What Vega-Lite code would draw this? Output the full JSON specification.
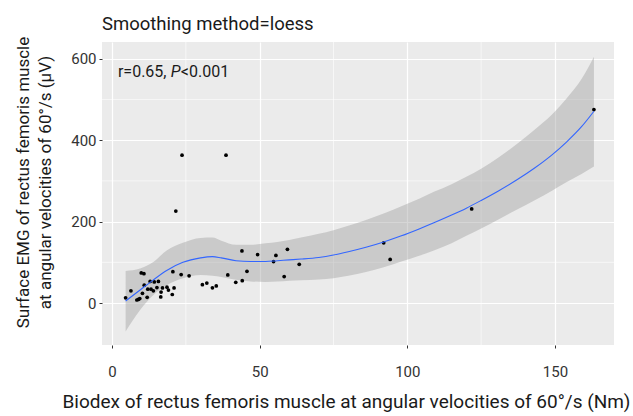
{
  "$schema": "https://vega.github.io/schema/vega-lite/v6.json",
  "width": 512,
  "height": 303,
  "autosize": {"type": "none"},
  "padding": {"left": 102, "top": 42, "right": 19, "bottom": 71},
  "background": "white",
  "config": {
    "font": "Roboto, Liberation Sans, sans-serif",
    "view": {"fill": "#EBEBEB", "stroke": null},
    "axis": {
      "domain": false,
      "gridColor": "white",
      "gridWidth": 1.2,
      "tickColor": "#333333",
      "tickSize": 3,
      "labelColor": "#333333",
      "labelFontSize": 15,
      "titleColor": "#1a1a1a",
      "titleFontSize": 17,
      "titleFontWeight": "normal"
    }
  },
  "title": {
    "text": "Smoothing method=loess",
    "anchor": "start",
    "frame": "group",
    "fontSize": 18.5,
    "fontWeight": "normal",
    "color": "#1a1a1a",
    "offset": 3
  },
  "datasets": {
    "points": [
      {"biodex": 4.6, "emg": 13}, {"biodex": 6.4, "emg": 30}, {"biodex": 8.4, "emg": 7.5},
      {"biodex": 8.9, "emg": 9}, {"biodex": 9.4, "emg": 11}, {"biodex": 9.9, "emg": 74},
      {"biodex": 10.8, "emg": 72}, {"biodex": 10.3, "emg": 24}, {"biodex": 10.9, "emg": 44},
      {"biodex": 11.9, "emg": 14}, {"biodex": 12.1, "emg": 34}, {"biodex": 12.9, "emg": 53},
      {"biodex": 13.2, "emg": 34}, {"biodex": 14, "emg": 30}, {"biodex": 14.3, "emg": 52},
      {"biodex": 15.7, "emg": 53}, {"biodex": 15.2, "emg": 38}, {"biodex": 16.6, "emg": 27},
      {"biodex": 16.5, "emg": 15}, {"biodex": 17.1, "emg": 37}, {"biodex": 18.6, "emg": 39},
      {"biodex": 19.1, "emg": 32}, {"biodex": 20.6, "emg": 77}, {"biodex": 20.4, "emg": 21},
      {"biodex": 21, "emg": 37}, {"biodex": 23.4, "emg": 70}, {"biodex": 26.1, "emg": 67},
      {"biodex": 30.6, "emg": 45}, {"biodex": 32.1, "emg": 49}, {"biodex": 34, "emg": 37.5},
      {"biodex": 35.3, "emg": 42}, {"biodex": 39.2, "emg": 69}, {"biodex": 41.9, "emg": 51},
      {"biodex": 44, "emg": 128}, {"biodex": 44.1, "emg": 55}, {"biodex": 45.7, "emg": 78},
      {"biodex": 49.3, "emg": 119}, {"biodex": 54.7, "emg": 102}, {"biodex": 55.5, "emg": 117},
      {"biodex": 58.3, "emg": 65}, {"biodex": 59.4, "emg": 132}, {"biodex": 63.4, "emg": 95},
      {"biodex": 23.7, "emg": 363}, {"biodex": 38.6, "emg": 363}, {"biodex": 21.6, "emg": 226},
      {"biodex": 92, "emg": 148}, {"biodex": 94.2, "emg": 107}, {"biodex": 121.8, "emg": 231},
      {"biodex": 163.2, "emg": 475}
    ],
    "smooth": [
      {"biodex": 4.6, "fit": 5, "lo": -70, "hi": 79},
      {"biodex": 9.5, "fit": 32, "lo": -17, "hi": 85},
      {"biodex": 14, "fit": 57, "lo": 20, "hi": 101},
      {"biodex": 18.5, "fit": 80, "lo": 44, "hi": 129},
      {"biodex": 24, "fit": 100, "lo": 61, "hi": 148},
      {"biodex": 30, "fit": 111, "lo": 69, "hi": 160},
      {"biodex": 34, "fit": 114, "lo": 67, "hi": 161},
      {"biodex": 37, "fit": 111, "lo": 64, "hi": 153},
      {"biodex": 42, "fit": 104, "lo": 57, "hi": 143},
      {"biodex": 47, "fit": 102, "lo": 53, "hi": 143},
      {"biodex": 52, "fit": 102, "lo": 52, "hi": 147},
      {"biodex": 56, "fit": 104, "lo": 53, "hi": 150},
      {"biodex": 60, "fit": 106, "lo": 55, "hi": 155},
      {"biodex": 64, "fit": 108, "lo": 56, "hi": 161},
      {"biodex": 70, "fit": 112, "lo": 58, "hi": 170},
      {"biodex": 75, "fit": 118, "lo": 61, "hi": 179},
      {"biodex": 80, "fit": 126, "lo": 67, "hi": 190},
      {"biodex": 86, "fit": 137, "lo": 76, "hi": 204},
      {"biodex": 92, "fit": 150, "lo": 88, "hi": 220},
      {"biodex": 98, "fit": 165, "lo": 102, "hi": 238},
      {"biodex": 104, "fit": 182, "lo": 116, "hi": 256},
      {"biodex": 109, "fit": 197, "lo": 129, "hi": 273},
      {"biodex": 115, "fit": 216, "lo": 147, "hi": 292},
      {"biodex": 120, "fit": 233, "lo": 165, "hi": 310},
      {"biodex": 125, "fit": 252, "lo": 183, "hi": 330},
      {"biodex": 131, "fit": 276, "lo": 206, "hi": 358},
      {"biodex": 137, "fit": 302, "lo": 229, "hi": 390},
      {"biodex": 143, "fit": 331, "lo": 252, "hi": 425},
      {"biodex": 149, "fit": 364, "lo": 276, "hi": 463},
      {"biodex": 154, "fit": 396, "lo": 297, "hi": 503},
      {"biodex": 159, "fit": 433, "lo": 317, "hi": 550},
      {"biodex": 163.2, "fit": 471, "lo": 335, "hi": 605}
    ],
    "minorX": [{"v": 25}, {"v": 75}, {"v": 125}],
    "minorY": [{"v": 100}, {"v": 300}, {"v": 500}],
    "notesNormal": [
      {"t": "r=0.65,", "px": 2.0},
      {"t": "<0.001", "px": 23.3}
    ],
    "notesItalic": [
      {"t": "P", "px": 19.9}
    ]
  },
  "encoding": {
    "x": {
      "field": "biodex", "type": "quantitative",
      "scale": {"domain": [-3.4, 170], "nice": false, "zero": false},
      "axis": {
        "values": [0, 50, 100, 150],
        "title": "Biodex of rectus femoris muscle at angular velocities of 60°/s (Nm)",
        "labelPadding": 16,
        "titlePadding": 13,
        "titleFontSize": 19,
        "titleX": 244
      }
    },
    "y": {
      "type": "quantitative",
      "scale": {"domain": [-103, 641], "nice": false, "zero": false},
      "axis": {
        "values": [0, 200, 400, 600],
        "title": ["Surface EMG of rectus femoris muscle", "at angular velocities of 60°/s (μV)"],
        "labelPadding": 3,
        "titlePadding": 16,
        "titleLineHeight": 22,
        "titleY": 140
      }
    }
  },
  "layer": [
    {
      "data": {"name": "minorX"},
      "mark": {"type": "rule", "color": "white", "strokeWidth": 0.6},
      "encoding": {"x": {"field": "v", "type": "quantitative"}, "y": null}
    },
    {
      "data": {"name": "minorY"},
      "mark": {"type": "rule", "color": "white", "strokeWidth": 0.6},
      "encoding": {"y": {"field": "v", "type": "quantitative"}, "x": null}
    },
    {
      "data": {"name": "smooth"},
      "mark": {"type": "area", "color": "#999999", "opacity": 0.4, "interpolate": "monotone"},
      "encoding": {
        "y": {"field": "lo", "type": "quantitative"},
        "y2": {"field": "hi"}
      }
    },
    {
      "data": {"name": "points"},
      "mark": {"type": "circle", "color": "black", "size": 14, "opacity": 1},
      "encoding": {"y": {"field": "emg", "type": "quantitative"}}
    },
    {
      "data": {"name": "smooth"},
      "mark": {"type": "line", "color": "#3366FF", "strokeWidth": 1.1, "interpolate": "monotone"},
      "encoding": {"y": {"field": "fit", "type": "quantitative"}}
    },
    {
      "data": {"name": "notesNormal"},
      "mark": {"type": "text", "align": "left", "baseline": "middle", "fontSize": 16, "color": "#1a1a1a"},
      "encoding": {
        "x": {"field": "px", "type": "quantitative"},
        "y": {"datum": 567},
        "text": {"field": "t"}
      }
    },
    {
      "data": {"name": "notesItalic"},
      "mark": {"type": "text", "align": "left", "baseline": "middle", "fontSize": 16, "fontStyle": "italic", "color": "#1a1a1a"},
      "encoding": {
        "x": {"field": "px", "type": "quantitative"},
        "y": {"datum": 567},
        "text": {"field": "t"}
      }
    }
  ]
}
